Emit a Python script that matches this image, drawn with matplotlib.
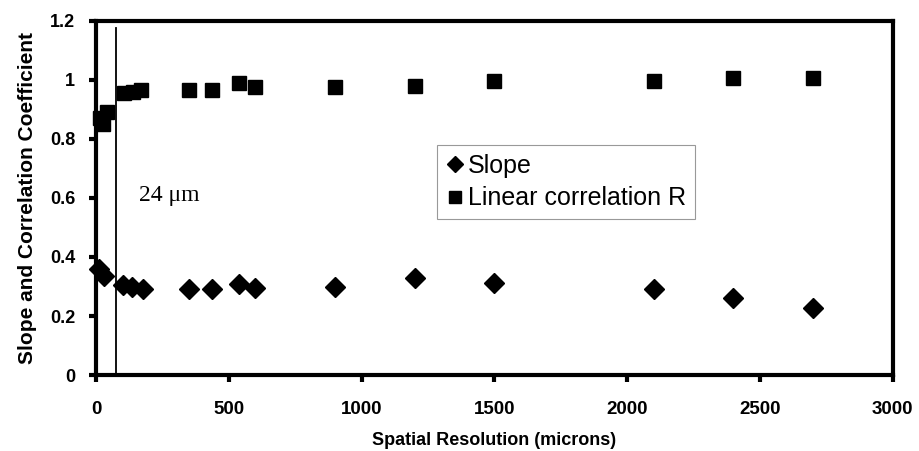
import numpy as np
import matplotlib.pyplot as plt

# spatial resolution (microns) and the two series
res_slope = [12, 30, 100, 135, 175, 350, 435, 540, 600, 900, 1200, 1500, 2100, 2400, 2700]
slope = [0.36, 0.335, 0.305, 0.298, 0.292, 0.29, 0.29, 0.308, 0.295, 0.298, 0.329, 0.312, 0.29, 0.261, 0.227]

res_r = [15, 25, 40, 105, 140, 170, 350, 435, 540, 600, 900, 1200, 1500, 2100, 2400, 2700]
corr_r = [0.87, 0.85, 0.89, 0.955, 0.96, 0.965, 0.966, 0.966, 0.99, 0.976, 0.976, 0.98, 0.997, 0.997, 1.006, 1.008]

cutoff = 75  # vertical marker line
xticks = [0, 500, 1000, 1500, 2000, 2500, 3000]
yticks = [0, 0.2, 0.4, 0.6, 0.8, 1, 1.2]
ytick_labels = ["0", "0.2", "0.4", "0.6", "0.8", "1", "1.2"]

plt.rcParams['font.family'] = ['Liberation Sans', 'DejaVu Sans']

fig = plt.figure(figsize=(9.19, 4.51), dpi=100)
ax = fig.add_axes([0.1045, 0.1685, 0.867, 0.785])

ax.plot(res_slope, slope, linestyle="none", marker="D", markersize=10,
        color="black", label="Slope", clip_on=False, zorder=3)
ax.plot(res_r, corr_r, linestyle="none", marker="s", markersize=10.5,
        color="black", label="Linear correlation R", clip_on=False, zorder=3)

ax.axvline(cutoff, ymin=0, ymax=0.98, color="black", linewidth=1.3)
ax.text(160, 0.61, "24 \u03bcm", family=["Liberation Serif", "DejaVu Serif"],
        fontsize=17, va="center", ha="left")

ax.set_xlim(0, 3000)
ax.set_ylim(0, 1.2)
ax.set_xticks(xticks)
ax.set_yticks(yticks)
ax.set_yticklabels(ytick_labels)

for s in ax.spines.values():
    s.set_linewidth(3)
ax.tick_params(width=3, length=5, direction="out")
ax.tick_params(axis="x", labelsize=13.5, pad=14)
ax.tick_params(axis="y", labelsize=13, pad=10)
for lab in ax.get_xticklabels() + ax.get_yticklabels():
    lab.set_fontweight("bold")

ax.set_xlabel("Spatial Resolution (microns)", fontsize=13, fontweight="bold", labelpad=10)
ax.set_ylabel("Slope and Correlation Coefficient", fontsize=15, fontweight="bold", labelpad=9)

leg = ax.legend(loc="upper left", bbox_to_anchor=(0.428, 0.65), borderaxespad=0,
                fontsize=18, frameon=True, fancybox=False, handletextpad=0.2,
                handlelength=0.7, borderpad=0.35, labelspacing=0.35, markerscale=0.8)
leg.get_frame().set_edgecolor("0.5")
leg.get_frame().set_linewidth(0.8)

fig.savefig("out.png", dpi=100)
